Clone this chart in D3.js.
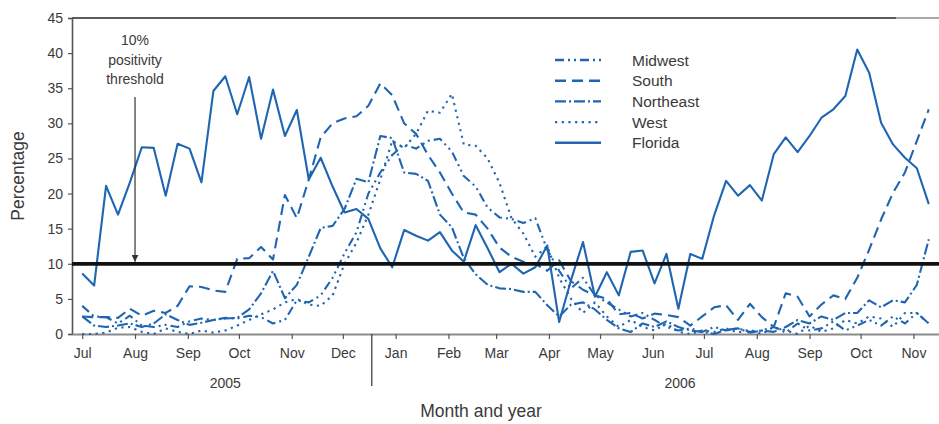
<!DOCTYPE html>
<html>
<head>
<meta charset="utf-8">
<script src="https://cdn.jsdelivr.net/npm/d3@7"></script>
<style>
  html, body { margin: 0; padding: 0; background: #fff; }
  svg { display: block; font-family: "Liberation Sans", Arial, Helvetica, sans-serif; }
</style>
</head>
<body>
<svg id="chart" width="939" height="424"></svg>
<script>
// ---------- DATA ----------
const seriesNames = ["Midwest", "South", "Northeast", "West", "Florida"];
const firstWeek = "2005-07-01";
const weekCount = 72;

const midwest = [4.0,2.5,2.4,1.5,2.6,1.2,1.0,1.3,1.0,1.8,2.2,2.0,2.3,2.2,2.6,2.4,1.5,2.0,4.8,4.5,
  5.5,8.0,11.5,14.5,20.0,23.0,25.5,27.0,26.4,27.5,27.8,26.0,22.5,21.0,18.0,16.6,16.4,15.8,16.5,12.0,
  9.0,6.5,8.0,5.5,4.5,3.5,2.5,3.0,2.0,1.0,0.5,0.8,0.3,1.0,0.5,0.8,0.3,0.5,1.0,0.2,
  1.5,0.5,0.8,1.8,0.5,1.2,2.0,1.2,2.5,1.5,3.0,1.5];

const south = [2.5,2.4,2.4,2.3,3.6,2.6,3.3,3.0,4.0,6.8,6.7,6.2,6.0,10.7,10.8,12.4,10.6,19.8,16.5,22.0,
  28.0,30.0,30.7,31.0,32.5,35.7,34.0,30.0,28.5,25.5,23.0,20.0,17.3,17.0,15.0,12.3,11.0,10.3,10.0,9.0,
  10.5,7.5,6.3,5.5,5.0,2.8,3.0,2.2,2.9,2.7,2.4,1.2,2.5,3.8,4.1,2.0,4.3,2.4,1.0,5.8,
  5.3,2.5,4.2,5.5,5.0,8.0,12.0,16.3,20.1,23.0,27.5,32.0];

const northeast = [2.5,1.2,1.0,1.2,1.5,1.0,1.5,2.8,2.0,1.3,1.6,2.0,2.2,2.3,3.5,5.8,9.0,5.1,7.0,11.0,
  15.1,15.4,17.8,22.1,21.6,28.2,27.9,23.0,22.8,21.8,17.0,15.2,10.8,8.5,7.0,6.5,6.4,6.0,6.0,4.1,
  2.5,4.2,4.5,3.5,2.0,0.8,0.3,1.5,1.0,1.8,1.0,0.5,0.3,0.0,0.6,0.8,0.2,0.5,0.3,1.0,
  2.0,1.5,2.5,2.0,3.0,3.0,4.8,3.8,4.8,4.5,7.0,13.5];

const west = [0.0,0.0,0.2,0.9,1.0,0.3,0.0,0.8,0.3,0.0,0.5,0.2,0.5,1.2,2.0,2.8,3.5,4.5,5.0,4.2,
  4.0,5.5,10.0,13.0,17.0,22.0,27.5,26.5,28.5,31.8,31.5,34.2,27.0,26.8,25.0,21.5,16.5,14.3,11.0,12.5,
  8.0,5.0,3.0,4.5,2.5,1.0,2.0,1.0,0.5,1.5,0.3,0.0,0.5,0.3,0.8,0.2,0.6,0.0,1.0,0.5,
  0.0,1.2,0.3,0.8,2.0,1.5,2.5,2.2,1.0,3.0,3.0,1.5];

const florida = [8.6,6.9,21.1,17.0,21.6,26.6,26.5,19.7,27.1,26.4,21.6,34.6,36.7,31.3,36.6,27.8,34.8,28.2,31.9,22.0,
  25.1,21.0,17.3,17.8,16.4,12.2,9.5,14.8,14.0,13.3,14.5,11.9,10.3,15.5,12.2,8.8,10.0,8.6,9.5,12.6,
  1.7,7.7,13.1,5.3,8.8,5.5,11.7,11.9,7.2,11.4,3.6,11.4,10.7,16.9,21.8,19.7,21.2,19.0,25.6,28.0,
  25.9,28.2,30.8,32.0,33.9,40.5,37.2,30.1,27.0,25.1,23.6,18.5];

const yTicks = [0, 5, 10, 15, 20, 25, 30, 35, 40, 45];
const threshold = 10;
const thresholdLabel = ["10%", "positivity", "threshold"];
const thresholdArrowDate = "2005-08-01";
const yearLabels = [{ text: "2005", date: "2005-09-23" }, { text: "2006", date: "2006-06-17" }];
const yearDivider = "2005-12-18";
const xTitle = "Month and year";
const yTitle = "Percentage";

// ---------- SETUP ----------
const plotL = 72, plotR = 939, plotT = 18, plotB = 334;
const blue = "#1f65b2";
const textColor = "#3a3a3a";
const dashes = {
  Midwest: "9,4,2,4,2,4",
  South: "11,6",
  Northeast: "11,3,2,3",
  West: "2.2,4.5",
  Florida: null
};
const parse = d3.utcParse("%Y-%m-%d");
const start = parse(firstWeek);
const weeks = d3.range(weekCount).map(i => d3.utcDay.offset(start, 7 * i));
const valuesBy = { Midwest: midwest, South: south, Northeast: northeast, West: west, Florida: florida };

const x = d3.scaleUtc()
  .domain([parse("2005-06-25"), parse("2006-11-16")])
  .range([plotL, plotR]);
const y = d3.scaleLinear().domain([0, 45]).range([plotB, plotT]);

const svg = d3.select("#chart");

// top frame line
svg.append("line").attr("x1", plotL).attr("x2", 896).attr("y1", plotT).attr("y2", plotT)
  .attr("stroke", "#5a5a5a").attr("stroke-width", 2.2);
svg.append("line").attr("x1", 896).attr("x2", plotR).attr("y1", plotT).attr("y2", plotT)
  .attr("stroke", "#a8a8a8").attr("stroke-width", 2.2);

// y axis
const yAxis = d3.axisLeft(y).tickValues(yTicks).tickSize(4).tickPadding(5);
const gy = svg.append("g").attr("transform", `translate(${plotL},0)`).call(yAxis);
gy.select(".domain").attr("stroke", "#555").attr("stroke-width", 1.6);
gy.selectAll(".tick line").attr("stroke", "#555").attr("stroke-width", 1.2);
gy.selectAll(".tick text").attr("fill", textColor).style("font-size", "14px");

// x axis
const monthTicks = d3.utcMonth.range(parse("2005-07-01"), parse("2006-11-02"));
const xAxis = d3.axisBottom(x).tickValues(monthTicks).tickFormat(d3.utcFormat("%b"))
  .tickSize(5).tickPadding(9).tickSizeOuter(0);
const gx = svg.append("g").attr("transform", `translate(0,${plotB})`).call(xAxis);
gx.select(".domain").attr("stroke", "#8a8a8a").attr("stroke-width", 2);
gx.selectAll(".tick line").attr("stroke", "#555").attr("stroke-width", 1.2);
gx.selectAll(".tick text").attr("fill", textColor).style("font-size", "14px");

// year divider and labels
svg.append("line").attr("x1", x(parse(yearDivider))).attr("x2", x(parse(yearDivider)))
  .attr("y1", plotB).attr("y2", 386).attr("stroke", "#444").attr("stroke-width", 1.3);
svg.selectAll(".year").data(yearLabels).enter().append("text")
  .attr("x", d => x(parse(d.date))).attr("y", 388)
  .attr("text-anchor", "middle").attr("fill", textColor).style("font-size", "14px")
  .text(d => d.text);

// axis titles
svg.append("text").attr("x", 481).attr("y", 417).attr("text-anchor", "middle")
  .attr("fill", textColor).style("font-size", "17.5px").text(xTitle);
svg.append("text").attr("transform", `translate(24,${(plotT + plotB) / 2}) rotate(-90)`)
  .attr("text-anchor", "middle").attr("fill", textColor).style("font-size", "17.5px").text(yTitle);

// series lines
const line = d3.line().x((d, i) => x(weeks[i])).y(d => y(d));
seriesNames.forEach(name => {
  svg.append("path").datum(valuesBy[name])
    .attr("d", line)
    .attr("fill", "none")
    .attr("stroke", blue)
    .attr("stroke-width", 2.1)
    .attr("stroke-linejoin", "round")
    .attr("stroke-dasharray", dashes[name]);
});

// threshold line
svg.append("line").attr("x1", plotL).attr("x2", plotR)
  .attr("y1", y(threshold)).attr("y2", y(threshold))
  .attr("stroke", "#111").attr("stroke-width", 3.8);

// threshold annotation
const ax = x(parse(thresholdArrowDate));
svg.append("defs").append("marker").attr("id", "arrow")
  .attr("viewBox", "0 0 10 10").attr("refX", 10).attr("refY", 5)
  .attr("markerWidth", 7).attr("markerHeight", 7).attr("markerUnits", "userSpaceOnUse")
  .attr("orient", "auto")
  .append("path").attr("d", "M0,0 L10,5 L0,10 Z").attr("fill", "#333");
svg.append("line").attr("x1", ax).attr("x2", ax).attr("y1", 97).attr("y2", y(threshold) - 2)
  .attr("stroke", "#333").attr("stroke-width", 1.2).attr("marker-end", "url(#arrow)");
svg.selectAll(".thr").data(thresholdLabel).enter().append("text")
  .attr("x", ax).attr("y", (d, i) => 45 + i * 19.5)
  .attr("text-anchor", "middle").attr("fill", textColor).style("font-size", "14px")
  .text(d => d);

// legend
const lg = svg.append("g");
seriesNames.forEach((name, i) => {
  const ly = 60 + i * 20.7;
  lg.append("line").attr("x1", 555).attr("x2", 601).attr("y1", ly).attr("y2", ly)
    .attr("stroke", blue).attr("stroke-width", 2.4).attr("stroke-dasharray", dashes[name]);
  lg.append("text").attr("x", 632).attr("y", ly + 5.5).attr("fill", textColor)
    .style("font-size", "15.5px").text(name);
});
</script>
</body>
</html>
